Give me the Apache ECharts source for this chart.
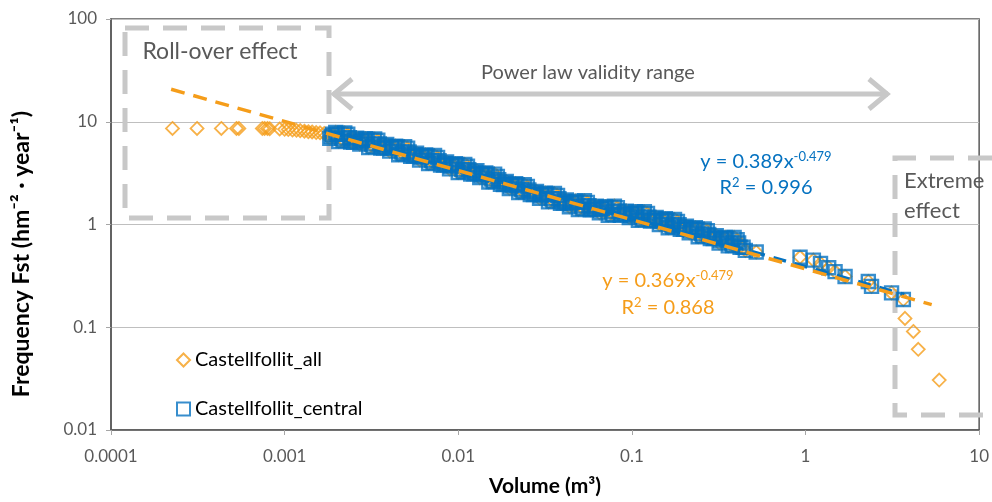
<!DOCTYPE html>
<html>
<head>
<meta charset="utf-8">
<script src="https://cdn.jsdelivr.net/npm/echarts@6/dist/echarts.min.js"></script>
<style>
  html, body { margin: 0; padding: 0; background: #fff; }
  #chart { width: 992px; height: 502px; }
</style>
</head>
<body>
<div id="chart"></div>
<script>
// Tick labels for the two log axes
const xTickLabels = ['0.0001', '0.001', '0.01', '0.1', '1', '10'];
const yTickLabels = ['0.01', '0.1', '1', '10', '100'];

// Roll-over part (only in Castellfollit_all)
const rollX = [0.000226, 0.000313, 0.000432, 0.000528, 0.000545, 0.000744, 0.000767, 0.000796, 0.00082, 0.000936,
  0.00100, 0.00105, 0.00111, 0.00117, 0.00123, 0.00130, 0.00137, 0.00144, 0.00152, 0.00160, 0.00169];
const rollY = [8.6, 8.6, 8.6, 8.6, 8.6, 8.6, 8.6, 8.6, 8.55, 8.5,
  8.45, 8.4, 8.3, 8.25, 8.2, 8.1, 8.0, 7.95, 7.85, 7.8, 7.7];

// Central part (power law range) - shared by both series
const centralX = [0.00182, 0.00197, 0.00213, 0.00231, 0.00250, 0.00271, 0.00293, 0.00317, 0.00344, 0.00372,
  0.00403, 0.00436, 0.00472, 0.00511, 0.00553, 0.00599, 0.00649, 0.00702, 0.00760, 0.00823,
  0.00891, 0.00965, 0.0105, 0.0113, 0.0123, 0.0133, 0.0144, 0.0156, 0.0168, 0.0182,
  0.0197, 0.0214, 0.0231, 0.0250, 0.0271, 0.0294, 0.0318, 0.0344, 0.0373, 0.0403,
  0.0437, 0.0473, 0.0512, 0.0554, 0.0600, 0.0650, 0.0703, 0.0762, 0.0825, 0.0893,
  0.0966, 0.105, 0.113, 0.123, 0.133, 0.144, 0.156, 0.169, 0.183, 0.198,
  0.214, 0.232, 0.251, 0.272, 0.294, 0.318, 0.345, 0.373, 0.404, 0.437,
  0.00189, 0.00205, 0.00222, 0.00240, 0.00260, 0.00282, 0.00305, 0.00330, 0.00358, 0.00387,
  0.00419, 0.00454, 0.00491, 0.00532, 0.00575, 0.00623, 0.00675, 0.00730, 0.00791, 0.00856,
  0.00927, 0.0100, 0.0109, 0.0118, 0.0128, 0.0138, 0.0150, 0.0162, 0.0175, 0.0189,
  0.0205, 0.0223, 0.0240, 0.0260, 0.0282, 0.0306, 0.0331, 0.0358, 0.0388, 0.0419,
  0.0455, 0.0492, 0.0533, 0.0576, 0.0624, 0.0676, 0.0731, 0.0793, 0.0858, 0.0929,
  0.1005, 0.109, 0.118, 0.128, 0.138, 0.150, 0.162, 0.176, 0.190, 0.206,
  0.223, 0.241, 0.261, 0.283, 0.306, 0.331, 0.359, 0.388, 0.420,
  0.00186, 0.00201, 0.00217, 0.00236, 0.00255, 0.00276, 0.00299, 0.00323, 0.00351, 0.00379,
  0.00411, 0.00445, 0.00481, 0.00521, 0.00564, 0.00611, 0.00662, 0.00716, 0.00775, 0.00839,
  0.00909, 0.00984, 0.0107, 0.0115, 0.0125, 0.0136, 0.0147, 0.0159, 0.0171, 0.0186,
  0.0201, 0.0218, 0.0236, 0.0255, 0.0276, 0.0300, 0.0324, 0.0351, 0.0380, 0.0411,
  0.0446, 0.0482, 0.0522, 0.0565, 0.0612, 0.0663, 0.0717, 0.0777, 0.0842, 0.0911,
  0.0985, 0.107, 0.115, 0.125, 0.136, 0.147, 0.159, 0.172, 0.187, 0.202,
  0.218, 0.237, 0.256, 0.277, 0.300, 0.324, 0.352, 0.380, 0.412,
  0.45, 0.52, 0.93, 1.11, 1.22, 1.36, 1.48, 1.69, 2.30, 2.40, 3.13, 3.66];
const centralY = [6.91, 7.89, 6.91, 7.55, 6.32, 6.05, 6.85, 6.05, 6.61, 5.54,
  5.18, 5.79, 5.07, 5.54, 4.64, 4.25, 4.76, 4.19, 4.50, 3.79,
  3.48, 3.91, 3.44, 3.69, 3.11, 2.86, 3.17, 2.77, 2.94, 2.45,
  2.24, 2.50, 2.19, 2.34, 1.96, 1.80, 2.02, 1.78, 1.92, 1.62,
  1.49, 1.69, 1.51, 1.64, 1.40, 1.30, 1.49, 1.34, 1.46, 1.25,
  1.17, 1.33, 1.18, 1.28, 1.09, 1.00, 1.14, 0.99, 1.07, 0.90,
  0.83, 0.93, 0.81, 0.87, 0.73, 0.66, 0.75, 0.66, 0.71, 0.60,
  7.55, 6.42, 7.80, 6.36, 6.93, 6.60, 5.62, 6.80, 5.54, 6.01,
  5.67, 4.77, 5.73, 4.61, 4.95, 4.65, 3.92, 4.69, 3.78, 4.06,
  3.81, 3.21, 3.85, 3.10, 3.33, 3.11, 2.59, 3.09, 2.46, 2.62,
  2.44, 2.05, 2.44, 1.96, 2.10, 1.97, 1.66, 2.00, 1.61, 1.73,
  1.64, 1.40, 1.70, 1.39, 1.51, 1.44, 1.23, 1.51, 1.23, 1.35,
  1.28, 1.10, 1.33, 1.08, 1.17, 1.11, 0.93, 1.12, 0.90, 0.96,
  0.905, 0.76, 0.905, 0.73, 0.78, 0.73, 0.62, 0.75, 0.60,
  7.23, 7.53, 6.57, 7.00, 6.66, 6.34, 6.58, 5.73, 6.08, 5.78,
  5.49, 5.64, 4.85, 5.09, 4.79, 4.50, 4.62, 3.98, 4.17, 3.93,
  3.69, 3.79, 3.26, 3.42, 3.22, 3.02, 3.08, 2.62, 2.73, 2.54,
  2.37, 2.42, 2.08, 2.17, 2.03, 1.90, 1.96, 1.69, 1.78, 1.67,
  1.58, 1.64, 1.43, 1.52, 1.45, 1.39, 1.45, 1.26, 1.35, 1.29,
  1.23, 1.28, 1.12, 1.18, 1.13, 1.07, 1.10, 0.946, 0.995, 0.935,
  0.88, 0.90, 0.77, 0.80, 0.75, 0.70, 0.726, 0.625, 0.66,
  0.56, 0.54, 0.48, 0.45, 0.418, 0.38, 0.348, 0.312, 0.279, 0.25, 0.216, 0.186];

// Extreme part (only in Castellfollit_all)
const extremeX = [3.74, 4.18, 4.46, 5.89];
const extremeY = [0.122, 0.091, 0.061, 0.0306];

// Power-law trend lines (end points)
const trendAllX = [0.000222, 5.33];
const trendAllY = [20.7, 0.166];
const trendCentralX = [0.0018, 3.7];
const trendCentralY = [8.0, 0.208];

const ORANGE = '#f59d1a';
const BLUE = '#0572c0';
const GREY_TXT = '#595959';
const GREY_SHAPE = '#c8c8c8';
const FONT = 'Lato, "Open Sans", sans-serif';

const pairs = (xs, ys) => xs.map((x, i) => [x, ys[i]]);
const allData = pairs(rollX, rollY).concat(pairs(centralX, centralY), pairs(extremeX, extremeY));
const centralData = pairs(centralX, centralY);

// rich text styles for the equations (base + superscript)
function eqRich(color) {
  return {
    b: { fontFamily: FONT, fontSize: 20, fill: color, color: color, lineHeight: 24 },
    s: { fontFamily: FONT, fontSize: 13, fill: color, color: color, lineHeight: 15, verticalAlign: 'top' }
  };
}

const chart = echarts.init(document.getElementById('chart'), null, { renderer: 'canvas' });

const option = {
  animation: false,
  backgroundColor: '#fff',
  grid: {
    left: 111, right: 9, top: 19, bottom: 70,
    show: true, borderColor: '#595959', borderWidth: 1.5
  },
  legend: {
    orient: 'vertical',
    left: 171, top: 345,
    itemGap: 29,
    itemWidth: 13, itemHeight: 13,
    textStyle: { fontFamily: FONT, fontSize: 20, color: '#000' },
    data: ['Castellfollit_all', 'Castellfollit_central']
  },
  xAxis: {
    type: 'log', logBase: 10, min: 0.0001, max: 10,
    name: 'Volume (m³)', nameLocation: 'middle', nameGap: 46,
    nameTextStyle: { fontFamily: FONT, fontSize: 21, fontWeight: 'bold', color: '#000' },
    axisLine: { show: true, lineStyle: { color: '#595959', width: 1.5 } },
    axisTick: { show: true, length: 5, lineStyle: { color: '#a6a6a6' } },
    axisLabel: {
      margin: 18, fontFamily: FONT, fontSize: 17, color: GREY_TXT,
      formatter: v => xTickLabels[Math.round(Math.log10(v)) + 4]
    },
    splitLine: { show: false },
    minorTick: { show: false }
  },
  yAxis: {
    type: 'log', logBase: 10, min: 0.01, max: 100,
    axisLine: { show: true, lineStyle: { color: '#595959', width: 1.5 } },
    axisTick: { show: true, length: 5, lineStyle: { color: '#a6a6a6' } },
    axisLabel: {
      margin: 14, fontFamily: FONT, fontSize: 17, color: GREY_TXT,
      formatter: v => yTickLabels[Math.round(Math.log10(v)) + 2]
    },
    splitLine: { show: true, lineStyle: { color: '#bfbfbf', width: 1.2 } }
  },
  series: [
    {
      name: 'Castellfollit_all',
      type: 'scatter',
      symbol: 'diamond',
      symbolSize: 13,
      itemStyle: { color: 'rgba(0,0,0,0)', borderColor: ORANGE, borderWidth: 1.8 },
      data: allData,
      z: 2
    },
    {
      name: 'Castellfollit_central',
      type: 'scatter',
      symbol: 'rect',
      symbolSize: 13,
      itemStyle: { color: 'rgba(0,0,0,0)', borderColor: BLUE, borderWidth: 2.4 },
      data: centralData,
      z: 3
    },
    {
      name: 'trend_central',
      type: 'line',
      showSymbol: false,
      symbol: 'none',
      lineStyle: { color: BLUE, width: 3.5, type: [13, 9] },
      data: pairs(trendCentralX, trendCentralY),
      z: 4
    },
    {
      name: 'trend_all',
      type: 'line',
      showSymbol: false,
      symbol: 'none',
      lineStyle: { color: ORANGE, width: 3.5, type: [14, 9] },
      data: pairs(trendAllX, trendAllY),
      z: 5
    }
  ],
  graphic: [
    // y axis title (sits a little below the plot centre, as in the source)
    {
      type: 'text', z: 10, x: 22, y: 254, rotation: Math.PI / 2,
      style: { text: 'Frequency Fst (hm⁻² · year⁻¹)', textAlign: 'center', textVerticalAlign: 'middle',
        font: 'bold 23px ' + FONT, fill: '#000' }
    },
    // roll-over box
    {
      type: 'rect', z: 1,
      shape: { x: 125, y: 28, width: 204, height: 190 },
      style: { fill: 'none', stroke: GREY_SHAPE, lineWidth: 5, lineDash: [24, 14] }
    },
    {
      type: 'text', z: 10,
      style: { text: 'Roll-over effect', x: 220, y: 52, textAlign: 'center', textVerticalAlign: 'middle',
        font: '23px ' + FONT, fill: GREY_TXT }
    },
    // validity range arrow
    {
      type: 'line', z: 1,
      shape: { x1: 333, y1: 94, x2: 888, y2: 94 },
      style: { stroke: GREY_SHAPE, lineWidth: 5 }
    },
    {
      type: 'polyline', z: 1,
      shape: { points: [[352, 79], [334, 94], [352, 109]] },
      style: { stroke: GREY_SHAPE, lineWidth: 5, fill: 'none' }
    },
    {
      type: 'polyline', z: 1,
      shape: { points: [[869, 79], [887, 94], [869, 109]] },
      style: { stroke: GREY_SHAPE, lineWidth: 5, fill: 'none' }
    },
    {
      type: 'text', z: 10,
      style: { text: 'Power law validity range', x: 588, y: 73, textAlign: 'center', textVerticalAlign: 'middle',
        font: '20px ' + FONT, fill: GREY_TXT }
    },
    // extreme effect box
    {
      type: 'polyline', z: 1,
      shape: { points: [[992, 158], [895, 158], [895, 415], [992, 415]] },
      style: { stroke: GREY_SHAPE, lineWidth: 5, fill: 'none', lineDash: [24, 14] }
    },
    {
      type: 'text', z: 10,
      style: { text: 'Extreme', x: 904, y: 181, textAlign: 'left', textVerticalAlign: 'middle',
        font: '22px ' + FONT, fill: GREY_TXT }
    },
    {
      type: 'text', z: 10,
      style: { text: 'effect', x: 904, y: 211, textAlign: 'left', textVerticalAlign: 'middle',
        font: '22px ' + FONT, fill: GREY_TXT }
    },
    // equations
    {
      type: 'text', z: 10,
      style: { text: '{b|y = 0.389x}{s|-0.479}', x: 766, y: 162, textAlign: 'center', textVerticalAlign: 'middle',
        rich: eqRich(BLUE) }
    },
    {
      type: 'text', z: 10,
      style: { text: '{b|R}{s|2}{b| = 0.996}', x: 766, y: 188, textAlign: 'center', textVerticalAlign: 'middle',
        rich: eqRich(BLUE) }
    },
    {
      type: 'text', z: 10,
      style: { text: '{b|y = 0.369x}{s|-0.479}', x: 668, y: 281, textAlign: 'center', textVerticalAlign: 'middle',
        rich: eqRich(ORANGE) }
    },
    {
      type: 'text', z: 10,
      style: { text: '{b|R}{s|2}{b| = 0.868}', x: 668, y: 308, textAlign: 'center', textVerticalAlign: 'middle',
        rich: eqRich(ORANGE) }
    }
  ]
};

chart.setOption(option);

window.addEventListener('resize', function () {
  chart.resize();
});
</script>
</body>
</html>
